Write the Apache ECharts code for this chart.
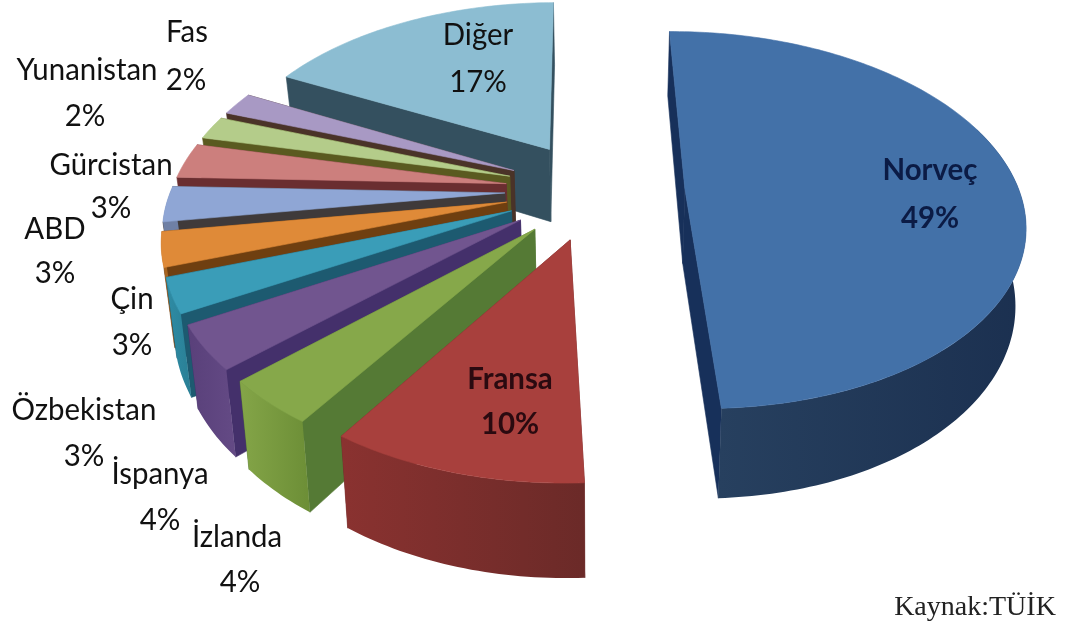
<!DOCTYPE html>
<html><head><meta charset="utf-8">
<style>html,body{margin:0;padding:0;background:#fff}#c{width:1066px;height:630px}</style>
<script src="https://cdn.jsdelivr.net/npm/echarts@6/dist/echarts.min.js"></script>
</head><body><div id="c"></div>
<script>
const categories=['Norveç','Fransa','İzlanda','İspanya','Özbekistan','Çin','ABD','Gürcistan','Yunanistan','Fas','Diğer'];
const values=[49.4,10,3.8,3.7,2.9,2.9,3,3,2,2,17.3];
const topColors=['#4371A8','#A8403D','#86A84A','#71558F','#3A9DB8','#DF8A38','#8FA6D5','#CC7F7D','#B4CC8A','#A899C4','#8CBDD2'];
const radialWall=['#17305A','#6E2A28','#557A35','#44306B','#1D5A70','#6F3F10','#3F3A3A','#6A2E30','#5A5A20','#4A3328','#34505F'];
// arc wall shading, left end then right end as seen on the page
const arcWallLeft=['#27405F','#8A3230','#84A548','#59407A','#2E8CA5','#A86420','#6F80A5','#9A5F5D','#88A065','#7F7395','#5E8EA0'];
const arcWallRight=['#1B3050','#6B2A28','#6C8E36','#644A85','#2A7F95','#A86420','#6F80A5','#9A5F5D','#88A065','#7F7395','#5E8EA0'];
// layout of each label: [x, first line y, second line y, second line x]
const labelPlace=[[930,170,218,930],[510,379,424,510],[237,537,582,240],[160,474,520,160],[84,410,456,84],[132,299,345,132],[55,229,273,55],[111,165,208,111],[87,70,116,85],[187,32,80,186],[478,35,82,478]];
const source='Kaynak:TÜİK';

const startAngle=-0.5, CX=595, CY=190, RAD=334, EXPLODE=90, TILT=.55, PERSP=.0005, DEPTH=75, VX=600, SHRINK=.975;
const rad=a=>a*Math.PI/180;
const total=values.reduce((a,b)=>a+b,0);
const angles=[];let acc=startAngle;
values.forEach(v=>{const s=acc;acc+=v/total*360;angles.push([s,acc]);});
function proj(X,Y,low){
  const g=1/(1-PERSP*Y);
  let sx=CX+X*g, sy=CY+TILT*Y*g;
  if(low){sy+=DEPTH*g;sx=VX+(sx-VX)*SHRINK;}
  return [sx,sy];
}
function poly(points,fill){
  return {type:'polygon',shape:{points},style:{fill,stroke:typeof fill==='string'?fill:null,lineWidth:.6}};
}
function sliceItem(params,api){
  const i=api.value(0);
  const [a0,a1]=angles[i];
  const mid=rad((a0+a1)/2);
  const ax=EXPLODE*Math.sin(mid), ay=-EXPLODE*Math.cos(mid);
  const pt=(a)=>[ax+RAD*Math.sin(rad(a)),ay-RAD*Math.cos(rad(a))];
  const n=Math.max(4,Math.ceil(a1-a0));
  const arc=[];
  for(let j=0;j<=n;j++) arc.push(pt(a0+(a1-a0)*j/n));
  const children=[];
  const apexT=proj(ax,ay,false), apexB=proj(ax,ay,true);
  const edge=(q)=>poly([apexT,proj(q[0],q[1],false),proj(q[0],q[1],true),apexB],radialWall[i]);
  children.push(edge(arc[n]));
  children.push(edge(arc[0]));
  // outer wall: only the front part of the rim can be seen
  const lo=Math.max(a0,70), hi=Math.min(a1,272);
  if(hi>lo){
    const m=Math.max(3,Math.ceil(hi-lo)), up=[], down=[];
    for(let j=0;j<=m;j++){
      const q=pt(lo+(hi-lo)*j/m);
      up.push(proj(q[0],q[1],false));
      down.unshift(proj(q[0],q[1],true));
    }
    children.push(poly(up.concat(down),{type:'linear',x:0,y:0,x2:1,y2:0,colorStops:[{offset:0,color:arcWallLeft[i]},{offset:1,color:arcWallRight[i]}]}));
  }
  children.push(poly([apexT].concat(arc.map(q=>proj(q[0],q[1],false))),topColors[i]));
  return {type:'group',children};
}
function labelItem(params,api){
  const i=api.value(0);
  const lp=labelPlace[i];
  const ink=i===0?'#0B1B45':i===1?'#2A0A10':'#111';
  const weight=i<2?'bold':'normal';
  const t=(s,x,y)=>({type:'text',x,y,scaleX:.98,style:{text:s,fill:ink,font:weight+' 30px Lato',align:'center',verticalAlign:'middle'}});
  return {type:'group',children:[t(categories[i],lp[0],lp[1]),t(Math.round(values[i])+'%',lp[3],lp[2])]};
}
const paintOrder=[0].concat(categories.map((_,i)=>i).slice(1).reverse());
const chart=echarts.init(document.getElementById('c'),null,{renderer:'canvas'});
chart.setOption({
  animation:false,backgroundColor:'#fff',
  series:[
    {type:'custom',coordinateSystem:'none',clip:false,renderItem:sliceItem,data:paintOrder.map(i=>[i,values[i]]),silent:true},
    {type:'custom',coordinateSystem:'none',clip:false,renderItem:labelItem,data:categories.map((c,i)=>[i,values[i]]),silent:true,z:5}
  ],
  graphic:[{type:'text',x:975,y:608,scaleX:1.0,z:10,style:{text:source,fill:'#222',font:'28px "Liberation Serif"',align:'center',verticalAlign:'middle'}}]
});
</script></body></html>
